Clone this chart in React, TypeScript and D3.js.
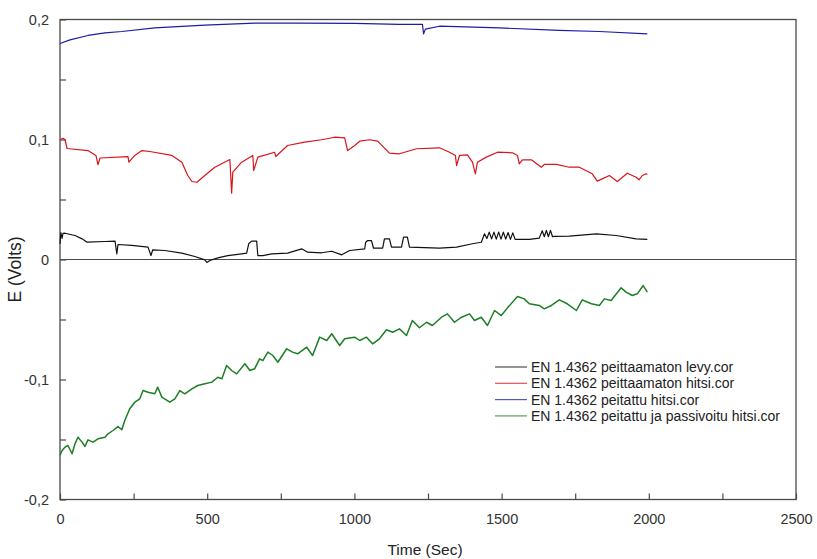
import { useRef, useEffect } from "react";
import * as d3 from "d3";

const W = 817;
const H = 559;

const xTicks = [0, 500, 1000, 1500, 2000, 2500];
const yTicks = [-0.2, -0.1, 0, 0.1, 0.2];

const seriesNames = [
  "EN 1.4362 peittaamaton levy.cor",
  "EN 1.4362 peittaamaton hitsi.cor",
  "EN 1.4362 peitattu hitsi.cor",
  "EN 1.4362 peitattu ja passivoitu hitsi.cor",
];
const seriesColors = ["#111111", "#d8141c", "#1c1ca8", "#1c7f24"];

// [time (s), E (V)]
const levy: [number, number][] = [
  [0, 0.0131], [3, 0.0225], [7, 0.0175], [10, 0.0217], [17, 0.0219], [51, 0.02],
  [75, 0.0172], [92, 0.0144], [153, 0.015], [187, 0.0153], [193, 0.0047], [197, 0.0125],
  [244, 0.0117], [299, 0.0103], [309, 0.0033], [315, 0.0081], [356, 0.0075], [414, 0.0053],
  [458, 0.0025], [492, -0.0003], [499, -0.0025], [509, -0.0008], [536, 0.0014], [570, 0.0033],
  [617, 0.0047], [634, 0.0053], [641, 0.0131], [651, 0.0153], [668, 0.0153], [672, 0.0033],
  [689, 0.0033], [719, 0.0047], [773, 0.0053], [821, 0.0089], [841, 0.0061], [889, 0.0056],
  [923, 0.0069], [957, 0.0039], [984, 0.0075], [1035, 0.0089], [1038, 0.0142], [1045, 0.0158],
  [1058, 0.0158], [1065, 0.0094], [1096, 0.0094], [1102, 0.0172], [1119, 0.0172], [1126, 0.0103],
  [1160, 0.0103], [1167, 0.0186], [1180, 0.0186], [1187, 0.0103], [1289, 0.0094], [1347, 0.0103],
  [1401, 0.0131], [1431, 0.0144], [1442, 0.0214], [1450, 0.0175], [1458, 0.0228], [1466, 0.0172],
  [1474, 0.0228], [1482, 0.017], [1490, 0.0228], [1498, 0.017], [1506, 0.0228], [1514, 0.017],
  [1522, 0.0225], [1530, 0.0168], [1538, 0.0222], [1546, 0.0168], [1554, 0.0167], [1594, 0.0167],
  [1628, 0.0178], [1638, 0.024], [1645, 0.019], [1652, 0.0243], [1659, 0.019], [1666, 0.0243],
  [1673, 0.019], [1679, 0.0192], [1730, 0.0194], [1822, 0.0214], [1889, 0.02], [1957, 0.0172],
  [1995, 0.0167],
];

const hitsi: [number, number][] = [
  [0, 0.0998], [10, 0.101], [17, 0.1], [24, 0.0925], [95, 0.0908], [122, 0.0867], [129, 0.079],
  [136, 0.0846], [231, 0.0858], [234, 0.0811], [254, 0.0867], [278, 0.0908], [305, 0.09],
  [380, 0.0867], [414, 0.0811], [434, 0.07], [448, 0.065], [465, 0.0644], [492, 0.07],
  [526, 0.0769], [577, 0.0833], [583, 0.0553], [587, 0.0728], [617, 0.0811], [655, 0.0867],
  [658, 0.0742], [672, 0.0853], [729, 0.0894], [733, 0.0858], [773, 0.095], [831, 0.0978],
  [889, 0.0998], [933, 0.1019], [967, 0.1014], [977, 0.0908], [1001, 0.095], [1018, 0.0986],
  [1052, 0.0998], [1079, 0.0986], [1119, 0.0886], [1153, 0.0881], [1211, 0.0923], [1289, 0.0931],
  [1323, 0.0894], [1343, 0.0867], [1347, 0.0783], [1357, 0.0867], [1384, 0.0872], [1401, 0.0811],
  [1411, 0.0714], [1418, 0.0811], [1448, 0.0853], [1486, 0.0894], [1537, 0.0889], [1554, 0.0867],
  [1560, 0.0797], [1571, 0.0831], [1601, 0.0831], [1635, 0.0769], [1645, 0.0792], [1686, 0.0792],
  [1730, 0.0769], [1764, 0.0769], [1791, 0.0736], [1808, 0.0714], [1825, 0.0653], [1842, 0.0672],
  [1866, 0.07], [1893, 0.065], [1927, 0.0719], [1957, 0.0686], [1967, 0.0664], [1978, 0.07],
  [1991, 0.0714], [1995, 0.0708],
];

const peitattu: [number, number][] = [
  [0, 0.18], [34, 0.183], [95, 0.1867], [153, 0.1888], [210, 0.19], [322, 0.193], [492, 0.1953],
  [661, 0.197], [814, 0.197], [1000, 0.1967], [1153, 0.196], [1231, 0.196], [1235, 0.188],
  [1241, 0.192], [1289, 0.1944], [1493, 0.193], [1696, 0.191], [1832, 0.19], [1995, 0.188],
];

const passivoitu: [number, number][] = [
  [0, -0.1633], [7, -0.1592], [17, -0.1564], [27, -0.155], [41, -0.1619], [51, -0.1536],
  [61, -0.1481], [75, -0.1522], [85, -0.1558], [95, -0.1503], [112, -0.1522], [129, -0.1494],
  [153, -0.1481], [163, -0.1453], [180, -0.1425], [197, -0.1392], [210, -0.1419], [220, -0.1342],
  [237, -0.1244], [254, -0.1189], [271, -0.1161], [282, -0.1092], [299, -0.1106], [322, -0.1119],
  [332, -0.1064], [346, -0.1147], [373, -0.1189], [390, -0.1161], [407, -0.1092], [424, -0.1119],
  [448, -0.1078], [468, -0.105], [492, -0.1036], [516, -0.1022], [536, -0.0981], [550, -0.0994],
  [566, -0.0883], [583, -0.0925], [600, -0.0953], [628, -0.0869], [645, -0.0925], [661, -0.0911],
  [678, -0.0828], [689, -0.0842], [706, -0.0772], [723, -0.08], [740, -0.0856], [770, -0.0744],
  [790, -0.0772], [807, -0.0786], [838, -0.0731], [858, -0.08], [882, -0.0647], [906, -0.0675],
  [923, -0.0619], [950, -0.0717], [967, -0.0661], [1001, -0.0647], [1018, -0.0675], [1041, -0.0647],
  [1062, -0.0703], [1085, -0.0661], [1109, -0.0586], [1130, -0.0606], [1153, -0.0578], [1177, -0.0633],
  [1197, -0.0508], [1221, -0.0569], [1245, -0.0523], [1265, -0.055], [1296, -0.0481], [1316, -0.0453],
  [1340, -0.0523], [1364, -0.0481], [1391, -0.0453], [1408, -0.0508], [1431, -0.0481], [1452, -0.055],
  [1476, -0.0425], [1499, -0.0467], [1520, -0.0403], [1554, -0.0308], [1577, -0.0328], [1594, -0.0369],
  [1628, -0.0383], [1645, -0.0411], [1669, -0.0383], [1696, -0.0336], [1723, -0.0369], [1754, -0.0425],
  [1774, -0.0336], [1805, -0.0369], [1832, -0.0383], [1849, -0.0328], [1872, -0.0342], [1906, -0.0236],
  [1923, -0.0272], [1944, -0.03], [1961, -0.0286], [1981, -0.0217], [1995, -0.0272],
];

const allSeries = [levy, hitsi, peitattu, passivoitu];

export default function App() {
  const ref = useRef<SVGSVGElement>(null);

  useEffect(() => {
    const svg = d3.select(ref.current);
    svg.selectAll("*").remove();

    const left = 60;
    const right = 796;
    const top = 19.5;
    const bottom = 499.5;

    const x = d3.scaleLinear().domain([0, 2500]).range([left, right]);
    const y = d3.scaleLinear().domain([-0.2, 0.2]).range([bottom, top]);

    const font = "'Liberation Sans', Arial, sans-serif";
    const axisColor = "#4a4a4a";
    const fmt = (d: number) =>
      d === 0 ? "0" : d3.format(".1f")(d).replace(".", ",").replace("−", "-");

    // frame
    svg
      .append("rect")
      .attr("x", left)
      .attr("y", top)
      .attr("width", right - left)
      .attr("height", bottom - top)
      .attr("fill", "none")
      .attr("stroke", axisColor)
      .attr("stroke-width", 1.3);

    // x axis
    const xMinor = d3.range(0, 2501, 250);
    const gx = svg
      .append("g")
      .attr("transform", `translate(0,${bottom})`)
      .call(
        d3
          .axisBottom(x)
          .tickValues(xMinor)
          .tickSizeInner(-6)
          .tickSizeOuter(0)
          .tickPadding(14)
          .tickFormat((d) => (xTicks.includes(+d) ? String(d) : ""))
      );
    gx.select(".domain").remove();
    gx.selectAll("line").attr("stroke", axisColor).attr("stroke-width", 1.2);
    gx.selectAll("text")
      .attr("fill", "#333")
      .style("font-family", font)
      .style("font-size", "14.5px");

    // y axis
    const yMinor = d3.range(-0.2, 0.2001, 0.05).map((v) => Math.round(v * 100) / 100);
    const gy = svg
      .append("g")
      .attr("transform", `translate(${left},0)`)
      .call(
        d3
          .axisLeft(y)
          .tickValues(yMinor)
          .tickSizeInner(-6)
          .tickSizeOuter(0)
          .tickPadding(11)
          .tickFormat((d) =>
            yTicks.some((t) => Math.abs(t - +d) < 1e-9) ? fmt(+d) : ""
          )
      );
    gy.select(".domain").remove();
    gy.selectAll("line").attr("stroke", axisColor).attr("stroke-width", 1.2);
    gy.selectAll("text")
      .attr("fill", "#333")
      .style("font-family", font)
      .style("font-size", "14.5px");

    // zero line
    svg
      .append("line")
      .attr("x1", left)
      .attr("x2", right)
      .attr("y1", y(0))
      .attr("y2", y(0))
      .attr("stroke", axisColor)
      .attr("stroke-width", 1.2);

    // axis titles
    svg
      .append("text")
      .attr("x", (left + right) / 2 - 3)
      .attr("y", 555)
      .attr("text-anchor", "middle")
      .attr("fill", "#222")
      .style("font-family", font)
      .style("font-size", "15.5px")
      .text("Time (Sec)");

    svg
      .append("text")
      .attr("transform", `translate(21,${(top + bottom) / 2 + 10}) rotate(-90)`)
      .attr("text-anchor", "middle")
      .attr("fill", "#222")
      .style("font-family", font)
      .style("font-size", "17.5px")
      .text("E (Volts)");

    // series
    const line = d3
      .line<[number, number]>()
      .x((d) => x(d[0]))
      .y((d) => y(d[1]));

    allSeries.forEach((data, i) => {
      svg
        .append("path")
        .datum(data)
        .attr("d", line)
        .attr("fill", "none")
        .attr("stroke", seriesColors[i])
        .attr("stroke-width", i === 3 ? 1.5 : 1.2)
        .attr("stroke-linejoin", "round");
    });

    // legend
    const legend = svg.append("g").attr("transform", "translate(495,367)");
    seriesNames.forEach((name, i) => {
      const row = legend.append("g").attr("transform", `translate(0,${i * 16.3})`);
      row
        .append("line")
        .attr("x1", 0)
        .attr("x2", 32)
        .attr("y1", 0)
        .attr("y2", 0)
        .attr("stroke", seriesColors[i])
        .attr("stroke-opacity", 0.75)
        .attr("stroke-width", 1.2);
      row
        .append("text")
        .attr("x", 36)
        .attr("y", 5)
        .attr("fill", "#222")
        .style("font-family", font)
        .style("font-size", "14px")
        .text(name);
    });
  }, []);

  return (
    <svg
      ref={ref}
      width={W}
      height={H}
      style={{ position: "absolute", left: 0, top: 0, background: "#fff" }}
    />
  );
}
